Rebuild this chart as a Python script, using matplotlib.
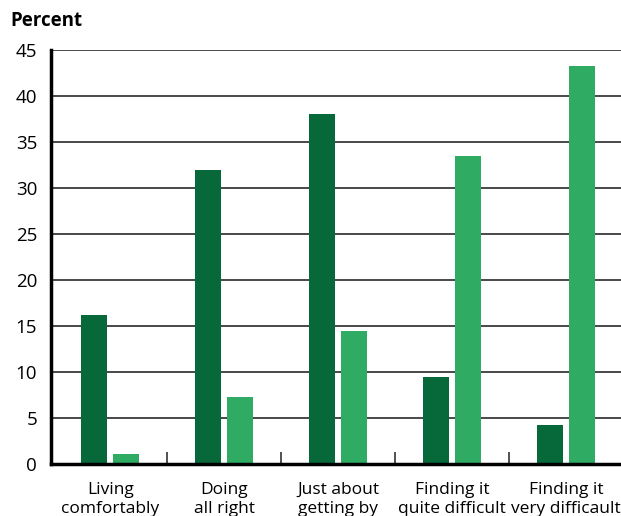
import matplotlib
matplotlib.use("Agg")
import matplotlib.pyplot as plt
import numpy as np

# data
categories = ["Living\ncomfortably", "Doing\nall right", "Just about\ngetting by",
              "Finding it\nquite difficult", "Finding it\nvery difficault"]
series_a = [16.2, 32.0, 38.0, 9.5, 4.2]
series_b = [1.1, 7.3, 14.5, 33.5, 43.3]
y_ticks = [0, 5, 10, 15, 20, 25, 30, 35, 40, 45]

DARK = "#07693a"
LIGHT = "#2fab63"

plt.rcParams["font.family"] = ["Open Sans", "DejaVu Sans"]

fig = plt.figure(figsize=(6.21, 5.16), dpi=100)
ax = fig.add_axes([51 / 621, 52 / 516, 570 / 621, 414 / 516])

x = np.arange(len(categories))
w = 0.228
off = 0.14
ax.bar(x - off, series_a, width=w, color=DARK, zorder=3)
ax.bar(x + off, series_b, width=w, color=LIGHT, zorder=3)

ax.set_xlim(-0.52, 4.48)
ax.set_ylim(0, 45)

# gridlines
ax.set_yticks(y_ticks)
ax.yaxis.grid(True, color="#2a2a2a", linewidth=1.2, zorder=1)
ax.tick_params(axis="y", length=0, pad=10, labelsize=13.5, labelcolor="black")

# x ticks at boundaries, labels centered on groups
ax.set_xticks(x[:-1] + 0.5)
ax.set_xticklabels([])
ax.set_xticks(x, minor=True)
ax.set_xticklabels(categories, minor=True, fontsize=12.5, linespacing=1.25)
ax.tick_params(axis="x", which="major", direction="in", length=9, width=1.2,
               color="#333333")
ax.tick_params(axis="x", which="minor", length=0, pad=13)

for side in ("top", "right"):
    ax.spines[side].set_visible(False)
for side in ("left", "bottom"):
    ax.spines[side].set_linewidth(2.5)
    ax.spines[side].set_color("black")
    ax.spines[side].set_zorder(4)

fig.text(10 / 621, 1 - 21 / 516, "Percent", fontsize=13.5, fontweight="bold",
         va="center", ha="left")

fig.savefig("out.png", dpi=100)
